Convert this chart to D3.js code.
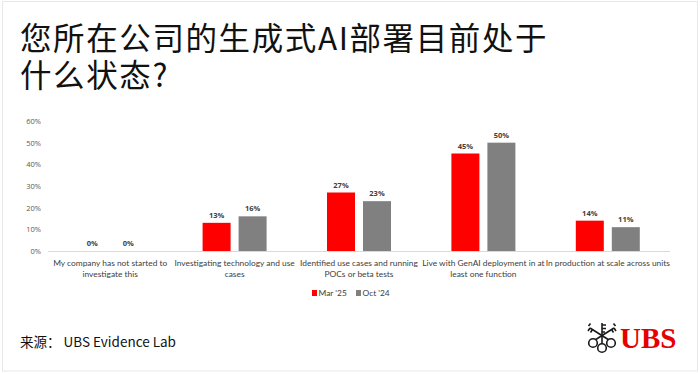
<!DOCTYPE html>
<html>
<head>
<meta charset="utf-8">
<script src="https://cdn.jsdelivr.net/npm/d3@7/dist/d3.min.js"></script>
<style>
  html, body { margin: 0; padding: 0; background: #fff; }
  svg { display: block; }
</style>
</head>
<body>
<svg id="chart" width="700" height="374"></svg>
<script>
// chart values
var categories = [
  'My company has not started to\ninvestigate this',
  'Investigating technology and use\ncases',
  'Identified use cases and running\nPOCs or beta tests',
  'Live with GenAI deployment in at\nleast one function',
  'In production at scale across units'
]
var seriesNames = ["Mar '25", "Oct '24"]
var mar25 = [0, 13, 27, 45, 14]
var oct24 = [0, 16, 23, 50, 11]
var yTicks = [0, 10, 20, 30, 40, 50, 60]
var titleLines = ['您所在公司的生成式AI部署目前处于', '什么状态?']
var sourceText = '来源： UBS Evidence Lab'

var colors = { "Mar '25": '#ff0000', "Oct '24": '#808080' }
var values = { "Mar '25": mar25, "Oct '24": oct24 }

var svg = d3.select('#chart')

// faint frame round the picture
svg.append('rect')
  .attr('x', 2.5).attr('y', 1.5)
  .attr('width', 695).attr('height', 369.5)
  .attr('fill', 'none')
  .attr('stroke', '#e8e8e8')

// title, one text with a tspan per line
svg.append('text')
  .attr('font-family', '"Noto Sans CJK SC", sans-serif')
  .attr('font-size', 31.5)
  .attr('letter-spacing', 1.6)
  .attr('fill', '#111')
  .selectAll('tspan')
  .data(titleLines)
  .enter()
  .append('tspan')
  .attr('x', 20)
  .attr('y', (d, i) => 50 + i * 37)
  .text((d) => d)

var x = d3.scaleBand().domain(categories).range([48, 670])
var xSub = d3.scaleBand()
  .domain(seriesNames)
  .range([x.bandwidth() / 2 - 32, x.bandwidth() / 2 + 32])
  .paddingInner(8 / 36)
var y = d3.scaleLinear().domain([0, 60]).range([251, 121])

// y axis labels (no axis line)
var yAxis = svg.append('g')
  .attr('transform', 'translate(41,0)')
  .call(d3.axisLeft(y).tickValues(yTicks).tickSize(0).tickPadding(0).tickFormat((d) => d + '%'))
yAxis.select('.domain').remove()
yAxis.selectAll('text')
  .attr('font-family', '"Open Sans", sans-serif')
  .attr('font-size', 7.5)
  .attr('fill', '#595959')

// bars
var groups = svg.append('g')
  .selectAll('g')
  .data(categories)
  .enter()
  .append('g')
  .attr('transform', (d) => 'translate(' + x(d) + ',0)')

groups.selectAll('rect')
  .data((d, i) => seriesNames.map((s) => ({ s, v: values[s][i] })))
  .enter()
  .append('rect')
  .attr('x', (d) => xSub(d.s))
  .attr('width', xSub.bandwidth())
  .attr('y', (d) => y(d.v))
  .attr('height', (d) => y(0) - y(d.v))
  .attr('fill', (d) => colors[d.s])

groups.selectAll('text.val')
  .data((d, i) => seriesNames.map((s) => ({ s, v: values[s][i] })))
  .enter()
  .append('text')
  .attr('class', 'val')
  .attr('x', (d) => xSub(d.s) + xSub.bandwidth() / 2)
  .attr('y', (d) => y(d.v) - 5)
  .attr('text-anchor', 'middle')
  .attr('font-family', '"Open Sans", sans-serif')
  .attr('font-weight', 'bold')
  .attr('font-size', 7.5)
  .attr('fill', '#404040')
  .text((d) => d.v + '%')

// x axis line and category labels
svg.append('line')
  .attr('x1', 48).attr('x2', 670)
  .attr('y1', y(0) + 0.5).attr('y2', y(0) + 0.5)
  .attr('stroke', '#d9d9d9')

groups.append('text')
  .attr('text-anchor', 'middle')
  .attr('font-family', 'Lato, sans-serif')
  .attr('font-size', 8.4)
  .attr('fill', '#404040')
  .selectAll('tspan')
  .data((d) => d.split('\n'))
  .enter()
  .append('tspan')
  .attr('x', x.bandwidth() / 2)
  .attr('y', (d, i) => 266 + i * 10.5)
  .text((d) => d)

// legend
var legend = svg.append('g')
  .selectAll('g')
  .data(seriesNames)
  .enter()
  .append('g')
  .attr('transform', (d, i) => 'translate(' + (312 + i * 44) + ',290)')
legend.append('rect')
  .attr('width', 5).attr('height', 6)
  .attr('fill', (d) => colors[d])
legend.append('text')
  .attr('x', 6.5)
  .attr('y', 6)
  .attr('font-family', 'Lato, sans-serif')
  .attr('font-size', 8.4)
  .attr('fill', '#404040')
  .text((d) => d)

// source
svg.append('text')
  .attr('x', 20)
  .attr('y', 347)
  .attr('font-family', '"Noto Sans CJK SC", sans-serif')
  .attr('font-size', 13.5)
  .attr('fill', '#111')
  .text(sourceText)

// UBS logo: three crossed keys + wordmark
var logo = svg.append('g')
  .attr('fill', 'none')
  .attr('stroke', '#1a1a1a')
  .attr('stroke-width', 1.6)
logo.append('line').attr('x1', 602).attr('y1', 344).attr('x2', 602).attr('y2', 323)
logo.append('line').attr('x1', 595).attr('y1', 340).attr('x2', 614).attr('y2', 328)
logo.append('line').attr('x1', 609).attr('y1', 340).attr('x2', 590).attr('y2', 328)
logo.append('path').attr('d', 'M602,325 h4 M602,328.5 h4 M602,332 h3')
logo.append('path').attr('d', 'M590,328 l-2,3 M592.5,329.5 l-2,3 M588.5,326 l2,-2.5')
logo.append('path').attr('d', 'M614,328 l2,3 M611.5,329.5 l2,3 M615.5,326 l-2,-2.5')
logo.selectAll('circle')
  .data([[593, 343], [611, 343], [602, 348]])
  .enter()
  .append('circle')
  .attr('cx', (d) => d[0])
  .attr('cy', (d) => d[1])
  .attr('r', 4.3)
  .attr('fill', '#fff')

svg.append('text')
  .attr('x', 620)
  .attr('y', 348)
  .attr('font-family', '"Liberation Serif", serif')
  .attr('font-weight', 'bold')
  .attr('font-size', 29)
  .attr('fill', '#e60000')
  .text('UBS')
</script>
</body>
</html>
